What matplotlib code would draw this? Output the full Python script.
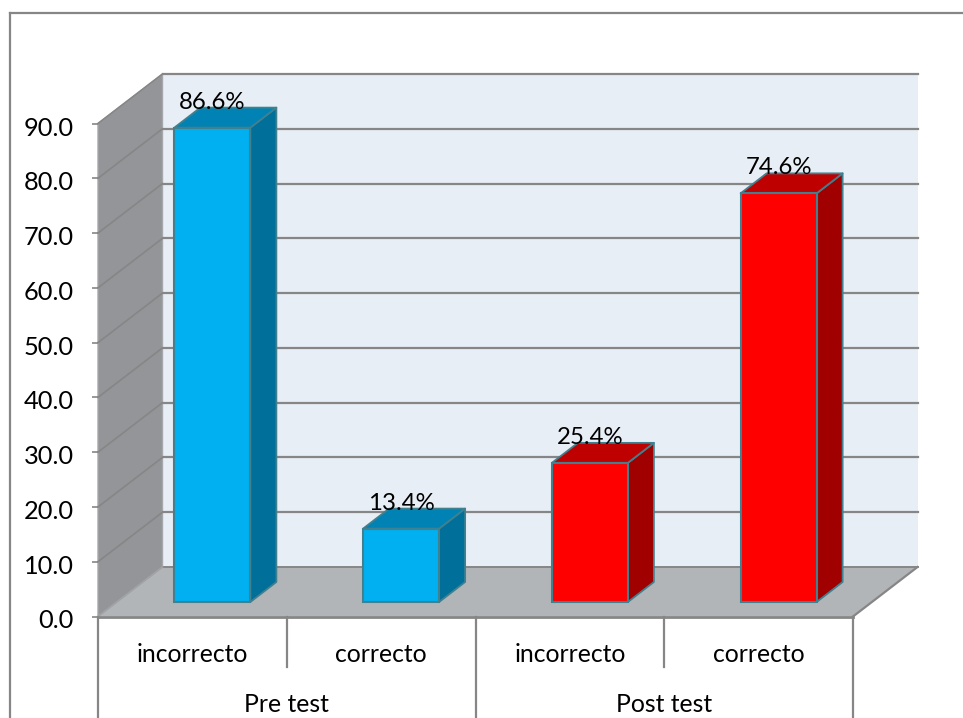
import matplotlib
matplotlib.use('agg')
import matplotlib.pyplot as plt
import numpy as np
from matplotlib.patches import Polygon
from matplotlib.transforms import ScaledTranslation

# Data
subcats = ['incorrecto', 'correcto', 'incorrecto', 'correcto']
groups = ['Pre test', 'Post test']
values = [86.6, 13.4, 25.4, 74.6]
labels = ['86.6%', '13.4%', '25.4%', '74.6%']
yticks = [0, 10, 20, 30, 40, 50, 60, 70, 80, 90]

W, H = 963, 718
plt.rcParams['font.family'] = ['Lato', 'DejaVu Sans']

fig = plt.figure(figsize=(W / 100, H / 100), dpi=100, facecolor='white')
ax = fig.add_axes([98 / W, (H - 616.5) / H, 755 / W, 493 / H])
ax.set_xlim(0, 4)
ax.set_ylim(0, 90)
ax.patch.set_visible(False)
for s in ax.spines.values():
    s.set_visible(False)

# pixel -> data units
px = 4 / 755
py = 90 / 493
grid = '#868686'
edge = '#40808f'


def poly(points, color, ec='none', lw=0, z=1):
    ax.add_patch(Polygon(points, closed=True, facecolor=color, edgecolor=ec,
                         linewidth=lw, clip_on=False, zorder=z, joinstyle='round'))


# walls and floor
dx, dy = 64.5 * px, 49.5 * py
poly([(dx, dy), (4 + dx, dy), (4 + dx, 90 + dy), (dx, 90 + dy)], '#e8eef5')
poly([(0, 0), (dx, dy), (dx, 90 + dy), (0, 90)], '#939598', ec='#a5a7aa', lw=1)
poly([(0, 0), (4, 0), (4 + dx, dy), (dx, dy)], '#b1b5b8')

for t in yticks[1:]:
    ax.plot([dx, 4 + dx], [t + dy, t + dy], color=grid, lw=1.6, clip_on=False, zorder=2)
    ax.plot([0, dx], [t, t + dy], color=grid, lw=1.2, clip_on=False, zorder=2)
ax.plot([dx, 4 + dx], [dy, dy], color=grid, lw=1.4, clip_on=False, zorder=2)
ax.plot([0, dx], [0, dy], color='#a0a2a5', lw=1.2, clip_on=False, zorder=2)
ax.plot([4, 4 + dx], [0, dy], color=grid, lw=1.6, clip_on=False, zorder=2)

# bars
front = ['#00b0f0', '#00b0f0', '#ff0000', '#ff0000']
top = ['#0083b4', '#0083b4', '#bf0000', '#bf0000']
side = ['#006f99', '#006f99', '#a00000', '#a00000']
xpos = np.arange(4) + 0.5 + 20 * px
lift = 14.5 * py
bars = ax.bar(xpos, values, width=76 * px, bottom=lift, color=front, edgecolor=edge,
              linewidth=1.5, zorder=4, clip_on=False)
bx, by = 26 * px, 20 * py
for i, b in enumerate(bars):
    x0, x1 = b.get_x(), b.get_x() + b.get_width()
    y0, y1 = b.get_y(), b.get_y() + b.get_height()
    poly([(x1, y0), (x1 + bx, y0 + by), (x1 + bx, y1 + by), (x1, y1)], side[i], ec=edge, lw=1.3, z=3)
    poly([(x0, y1), (x1, y1), (x1 + bx, y1 + by), (x0 + bx, y1 + by)], top[i], ec=edge, lw=1.3, z=3)
    ax.text((x0 + x1) / 2, y1 + 25.5 * py, labels[i], ha='center', va='center',
            fontsize=17.3, color='black', zorder=5)

# y axis
ax.set_yticks(yticks)
ax.set_yticklabels(['%.1f' % t for t in yticks], fontsize=18.3)
ax.tick_params(axis='y', length=4.5, width=1.2, color=grid, pad=13)
shift = ScaledTranslation(0, -2.5 / 100, fig.dpi_scale_trans)
for lab in ax.get_yticklabels():
    lab.set_transform(lab.get_transform() + shift)
ax.set_xticks([])
ax.plot([0, 4], [0, 0], color=grid, lw=2, clip_on=False, zorder=3)

# multi level category axis
for x, ybot in [(0, 718), (1, 667), (2, 718), (3, 667), (4, 718)]:
    ax.plot([x, x], [0, (616.5 - ybot) * py], color=grid, lw=1.6, clip_on=False, zorder=2)
for i, name in enumerate(subcats):
    ax.text(i + 0.5, (616.5 - 654) * py, name, ha='center', va='center', fontsize=17.8, color='black')
for i, name in enumerate(groups):
    ax.text(2 * i + 1, (616.5 - 705) * py, name, ha='center', va='center', fontsize=17.8, color='black')

# chart frame
fig.add_artist(plt.Line2D([9.5 / W, 9.5 / W], [0, (H - 13) / H], color=grid, lw=1.6))
fig.add_artist(plt.Line2D([9.5 / W, 1], [(H - 13) / H, (H - 13) / H], color=grid, lw=1.6))

fig.savefig('out.png', dpi=100)
